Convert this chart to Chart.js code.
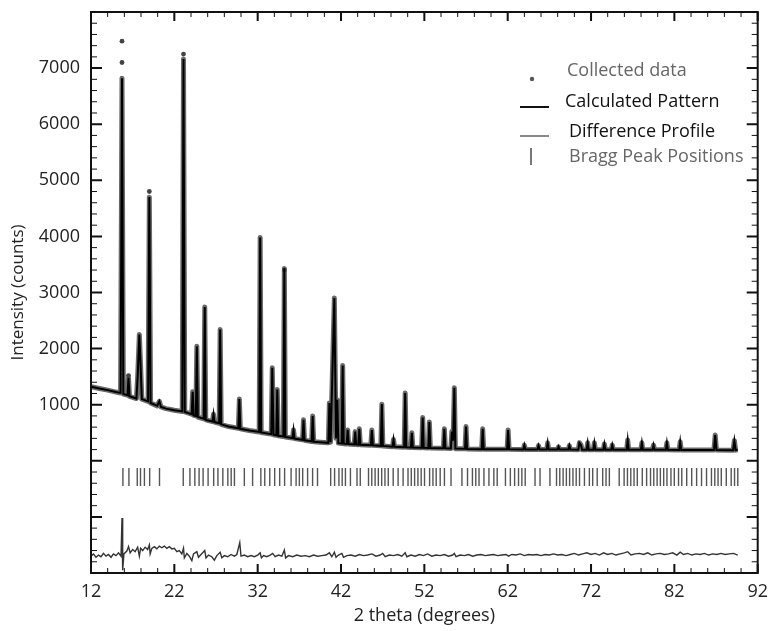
<!DOCTYPE html>
<html>
<head>
<meta charset="utf-8">
<script src="https://cdn.jsdelivr.net/npm/chart.js@4.4.1/dist/chart.umd.min.js"></script>
<style>
    body { margin: 0; background: #fff; }
    #wrap { width: 776px; height: 631px; }
</style>
</head>
<body>
<div id="wrap"><canvas id="chart" width="776" height="631"></canvas></div>
<script>
// calculated pattern, [2theta, counts]
const calculated = [
    [12, 1320], [13, 1290], [14, 1260], [15, 1225],
    [15.55, 1210], [15.72, 6820], [15.88, 1190],
    [16.38, 1170], [16.5, 1480], [16.62, 1150],
    [17.45, 1110], [17.6, 1500], [17.8, 2250], [17.95, 1700], [18.1, 1100],
    [18.85, 1060], [19.0, 4700], [19.15, 1030],
    [19.95, 980], [20.2, 1060], [20.4, 960],
    [21, 930], [22, 900], [22.95, 880], [23.1, 7160], [23.25, 870],
    [24.08, 830], [24.2, 1230], [24.32, 810], [24.58, 800], [24.7, 2040], [24.82, 780],
    [25.53, 750], [25.65, 2740], [25.77, 730],
    [26.58, 700], [26.7, 830], [26.82, 690],
    [27.38, 670], [27.5, 2340], [27.62, 650],
    [28.5, 610], [29.68, 580], [29.8, 1100], [29.92, 570],
    [31, 540], [32.18, 515], [32.3, 3980], [32.42, 505],
    [33.63, 475], [33.75, 1660], [33.9, 465], [34.23, 455], [34.35, 1270], [34.47, 445],
    [35.08, 435], [35.2, 3430], [35.32, 425],
    [36.18, 405], [36.3, 550], [36.42, 395],
    [37.38, 375], [37.5, 730], [37.62, 365],
    [38.48, 345], [38.6, 800], [38.72, 340],
    [39.5, 330], [40.48, 320], [40.6, 1030], [40.75, 330], [41.2, 2900], [41.4, 400],
    [41.55, 1090], [41.68, 315], [42.08, 310], [42.2, 1700], [42.32, 305],
    [42.68, 300], [42.8, 550], [42.92, 298],
    [43.58, 292], [43.7, 520], [43.82, 290], [44.08, 288], [44.2, 570], [44.32, 285],
    [45.58, 277], [45.7, 550], [45.82, 275],
    [46.78, 267], [46.9, 1010], [47.02, 265],
    [48.18, 252], [48.3, 380], [48.42, 250],
    [49.58, 242], [49.7, 1210], [49.82, 240],
    [50.38, 237], [50.5, 500], [50.62, 235],
    [51.68, 233], [51.8, 770], [51.92, 232], [52.48, 230], [52.6, 690], [52.72, 228],
    [54.28, 223], [54.4, 570], [54.52, 222],
    [55.18, 219], [55.3, 520], [55.45, 360], [55.6, 1300], [55.72, 217],
    [56.88, 213], [57.0, 610], [57.12, 212],
    [58.88, 208], [59.0, 570], [59.12, 207],
    [61.93, 205], [62.05, 550], [62.17, 205],
    [63.88, 203], [64.0, 280], [64.12, 203],
    [65.58, 202], [65.7, 270], [65.82, 202],
    [66.68, 201], [66.8, 320], [66.92, 201],
    [67.98, 200], [68.1, 250], [68.22, 200],
    [69.28, 200], [69.4, 270], [69.52, 200],
    [70.48, 199], [70.6, 320], [70.8, 280], [70.92, 199],
    [71.48, 199], [71.6, 320], [71.72, 199],
    [72.28, 198], [72.4, 320], [72.52, 198],
    [73.48, 198], [73.6, 300], [73.72, 198],
    [74.43, 197], [74.55, 280], [74.67, 197],
    [76.28, 196], [76.4, 370], [76.52, 196],
    [77.98, 196], [78.1, 320], [78.22, 196],
    [79.38, 195], [79.5, 280], [79.62, 195],
    [80.98, 195], [81.1, 320], [81.22, 195],
    [82.58, 194], [82.7, 340], [82.82, 194],
    [86.75, 192], [86.9, 460], [87.05, 192],
    [89.05, 190], [89.2, 360], [89.35, 190], [89.6, 195]
]

// collected points that stick out above the fit
const collectedTops = [
    [15.72, 7480], [15.72, 7100], [23.1, 7250], [19.0, 4800], [35.2, 3400], [16.5, 1520]
]

// difference profile (obs - calc), drawn with an offset of about -1680
const difference = [
    [12.0, -1700], [12.3, -1660], [12.6, -1720], [12.9, -1680], [13.2, -1710], [13.5, -1650],
    [13.8, -1700], [14.1, -1670], [14.4, -1720], [14.7, -1660], [15.0, -1690], [15.3, -1640],
    [15.6, -1700], [15.72, -1020], [15.8, -1950], [15.95, -1660], [16.3, -1610], [16.5, -1530],
    [16.7, -1640], [17.0, -1580], [17.3, -1620], [17.6, -1540], [17.8, -1700], [17.95, -1560],
    [18.2, -1600], [18.5, -1540], [18.8, -1580], [19.0, -1500], [19.1, -1660], [19.3, -1560],
    [19.6, -1530], [19.9, -1570], [20.2, -1520], [20.5, -1550], [20.8, -1520], [21.1, -1560],
    [21.4, -1530], [21.7, -1570], [22.0, -1560], [22.3, -1620], [22.6, -1600], [22.9, -1660],
    [23.1, -1560], [23.2, -1730], [23.5, -1650], [23.8, -1700], [24.1, -1780], [24.3, -1660],
    [24.7, -1620], [24.9, -1720], [25.2, -1670], [25.65, -1600], [25.8, -1730], [26.1, -1680],
    [26.5, -1710], [26.8, -1770], [27.1, -1690], [27.5, -1630], [27.7, -1730], [28.0, -1690],
    [28.4, -1710], [28.8, -1670], [29.2, -1700], [29.5, -1670], [29.85, -1460], [30.0, -1700],
    [30.4, -1680], [30.8, -1710], [31.2, -1690], [31.6, -1710], [32.0, -1680], [32.3, -1640],
    [32.45, -1730], [32.7, -1690], [33.1, -1710], [33.5, -1680], [33.8, -1650], [34.1, -1710],
    [34.5, -1680], [34.9, -1700], [35.2, -1590], [35.35, -1730], [35.7, -1690], [36.2, -1710],
    [36.7, -1680], [37.2, -1700], [37.7, -1690], [38.2, -1710], [38.7, -1680], [39.2, -1700],
    [39.7, -1690], [40.2, -1680], [40.6, -1640], [40.9, -1710], [41.2, -1630], [41.4, -1720],
    [41.7, -1680], [42.1, -1650], [42.3, -1720], [42.7, -1690], [43.2, -1680], [43.7, -1700],
    [44.2, -1670], [44.7, -1690], [45.2, -1680], [45.7, -1660], [46.2, -1700], [46.7, -1680],
    [47.0, -1650], [47.3, -1710], [47.8, -1680], [48.3, -1690], [48.8, -1670], [49.3, -1700],
    [49.7, -1640], [49.9, -1710], [50.4, -1680], [50.9, -1700], [51.4, -1670], [51.9, -1690],
    [52.4, -1660], [52.9, -1700], [53.4, -1680], [53.9, -1690], [54.4, -1670], [54.9, -1700],
    [55.4, -1680], [55.6, -1650], [55.8, -1710], [56.3, -1680], [56.8, -1690], [57.3, -1670],
    [57.8, -1700], [58.3, -1680], [58.8, -1670], [59.3, -1690], [59.8, -1680], [60.3, -1670],
    [60.8, -1690], [61.3, -1680], [61.8, -1670], [62.1, -1700], [62.5, -1670], [63.0, -1680],
    [63.5, -1660], [64.0, -1690], [64.5, -1670], [65.0, -1680], [65.5, -1670], [66.0, -1690],
    [66.5, -1670], [67.0, -1680], [67.5, -1660], [68.0, -1680], [68.5, -1670], [69.0, -1690],
    [69.5, -1670], [70.0, -1650], [70.5, -1680], [71.0, -1660], [71.5, -1640], [72.0, -1670],
    [72.5, -1650], [73.0, -1680], [73.5, -1640], [74.0, -1670], [74.5, -1650], [75.0, -1680],
    [75.5, -1660], [76.0, -1640], [76.4, -1620], [76.8, -1680], [77.3, -1660], [77.8, -1650],
    [78.3, -1670], [78.8, -1640], [79.3, -1680], [79.8, -1660], [80.3, -1650], [80.8, -1670],
    [81.3, -1660], [81.8, -1640], [82.3, -1680], [82.7, -1630], [83.1, -1670], [83.6, -1650],
    [84.1, -1680], [84.6, -1660], [85.1, -1670], [85.6, -1650], [86.1, -1680], [86.6, -1660],
    [87.1, -1670], [87.6, -1650], [88.1, -1670], [88.6, -1660], [89.1, -1650], [89.6, -1680]
]

// bragg reflections (2theta)
const braggPeaks = [
    15.83, 16.55, 17.55, 17.94, 18.41, 19.04, 20.22,
    23.07, 23.87, 24.46, 24.97, 25.45, 26.05, 26.72, 27.23, 27.82, 28.42, 28.82, 29.21, 30.4, 31.39,
    32.38, 32.85, 33.45, 34.04, 34.64, 35.23, 36.01, 36.61, 37.0, 37.4, 37.99, 38.59, 39.18,
    40.76, 41.23, 41.75, 42.14, 42.53, 43.13, 43.92, 44.31, 45.3, 45.69, 46.09, 46.48, 46.88,
    47.27, 47.67, 48.26, 48.85, 49.45, 50.04, 50.43, 50.83, 51.23, 51.62, 52.02,
    52.63, 53.03, 53.42, 53.9, 54.41, 55.2, 56.51, 57.18, 57.77, 58.17, 58.56, 59.15, 59.75,
    60.34, 60.74, 61.73, 62.32, 62.83, 63.3, 63.7, 64.1, 65.28, 65.88, 67.07, 67.86, 68.25,
    68.65, 69.04, 69.43, 69.83, 70.22, 70.62, 71.21, 71.8, 72.2,
    72.74, 73.4, 73.8, 74.2, 75.38, 75.97, 76.37, 76.77, 77.16, 77.55, 78.15, 78.67, 79.14,
    79.53, 79.93, 80.32, 80.72, 81.11, 81.59, 81.99, 82.5, 82.89, 83.48, 84.08, 84.67, 85.26,
    85.86, 86.45, 86.85, 87.24, 87.63, 88.23, 88.82, 89.22, 89.61
]
const braggRow = -290

const yLabels = [1000, 2000, 3000, 4000, 5000, 6000, 7000]

const toXY = arr => arr.map(p => ({ x: p[0], y: p[1] }))

const FONT = "'Open Sans', 'DejaVu Sans', sans-serif"

// inward ticks on all four sides + frame
const frameTicks = {
    id: 'frameTicks',
    afterDatasetsDraw(chart) {
        const { ctx, chartArea: a, scales } = chart
        ctx.save()
        ctx.strokeStyle = '#111'
        for(let v = 12; v <= 92; v += 2) {
            const major = (v - 12) % 10 == 0
            const px = scales.x.getPixelForValue(v)
            const len = major ? 9 : 5
            ctx.lineWidth = major ? 2 : 1
            ctx.beginPath()
            ctx.moveTo(px, a.bottom); ctx.lineTo(px, a.bottom - len)
            ctx.moveTo(px, a.top); ctx.lineTo(px, a.top + len)
            ctx.stroke()
        }
        for(let v = -2000; v <= 8000; v += 200) {
            const major = v % 1000 == 0
            const py = scales.y.getPixelForValue(v)
            const len = major ? 11 : 6
            ctx.lineWidth = major ? 2 : 1
            ctx.beginPath()
            ctx.moveTo(a.left, py); ctx.lineTo(a.left + len, py)
            ctx.moveTo(a.right, py); ctx.lineTo(a.right - len, py)
            ctx.stroke()
        }
        ctx.lineWidth = 2
        ctx.strokeRect(a.left, a.top, a.right - a.left, a.bottom - a.top)
        ctx.restore()
    }
}

const legendBox = {
    id: 'legendBox',
    afterDraw(chart) {
        const ctx = chart.ctx
        ctx.save()
        ctx.font = `18px ${FONT}`
        ctx.textBaseline = 'middle'
        ctx.textAlign = 'left'

        ctx.fillStyle = '#555'
        ctx.beginPath(); ctx.arc(532, 79, 2.2, 0, Math.PI * 2); ctx.fill()
        ctx.fillStyle = '#666'
        ctx.fillText('Collected data', 567, 71)

        ctx.strokeStyle = '#111'; ctx.lineWidth = 2
        ctx.beginPath(); ctx.moveTo(520, 107); ctx.lineTo(549, 107); ctx.stroke()
        ctx.fillStyle = '#111'
        ctx.fillText('Calculated Pattern', 565, 102)

        ctx.strokeStyle = '#888'; ctx.lineWidth = 2
        ctx.beginPath(); ctx.moveTo(520, 136); ctx.lineTo(549, 136); ctx.stroke()
        ctx.fillStyle = '#111'
        ctx.fillText('Difference Profile', 569, 132)

        ctx.strokeStyle = '#777'; ctx.lineWidth = 2
        ctx.beginPath(); ctx.moveTo(531, 148); ctx.lineTo(531, 165); ctx.stroke()
        ctx.fillStyle = '#666'
        ctx.fillText('Bragg Peak Positions', 569, 157)
        ctx.restore()
    }
}

new Chart(document.getElementById('chart'), {
    type: 'line',
    data: {
        datasets: [
            {
                label: 'Calculated Pattern',
                data: toXY(calculated),
                borderColor: '#000',
                borderWidth: 2,
                pointRadius: 0,
                tension: 0,
                order: 1
            },
            {
                label: 'Collected data',
                data: toXY(calculated),
                borderColor: 'rgba(80,80,80,0.85)',
                borderWidth: 5,
                borderJoinStyle: 'round',
                pointRadius: 0,
                tension: 0,
                order: 3
            },
            {
                label: 'Collected data (tops)',
                data: toXY(collectedTops),
                showLine: false,
                pointRadius: 2.4,
                pointBackgroundColor: '#444',
                pointBorderWidth: 0,
                order: 2
            },
            {
                label: 'Difference Profile',
                data: toXY(difference),
                borderColor: '#333',
                borderWidth: 1.4,
                pointRadius: 0,
                tension: 0,
                order: 4
            },
            {
                label: 'Bragg Peak Positions',
                data: braggPeaks.map(v => ({ x: v, y: braggRow })),
                showLine: false,
                pointStyle: 'line',
                rotation: 90,
                pointRadius: 9,
                borderColor: '#555',
                borderWidth: 1.4,
                order: 5
            }
        ]
    },
    options: {
        responsive: false,
        animation: false,
        events: [],
        devicePixelRatio: 1,
        layout: { padding: { top: 12, right: 11, left: 0, bottom: 0 } },
        plugins: { legend: { display: false }, tooltip: { enabled: false } },
        scales: {
            x: {
                type: 'linear',
                min: 12,
                max: 92,
                grid: { display: false, drawTicks: false },
                border: { display: false },
                ticks: { stepSize: 10, color: '#222', font: { size: 18, family: FONT }, padding: 8 },
                title: { display: true, text: '2 theta (degrees)', color: '#222', font: { size: 18, family: FONT }, padding: { top: 0, bottom: 4 } },
                afterFit(scale) { scale.height = 58 }
            },
            y: {
                min: -2000,
                max: 8000,
                grid: { display: false, drawTicks: false },
                border: { display: false },
                ticks: {
                    stepSize: 1000,
                    color: '#222',
                    font: { size: 18, family: FONT },
                    padding: 11,
                    callback: v => yLabels.includes(v) ? String(v) : ''
                },
                title: { display: true, text: 'Intensity (counts)', color: '#222', font: { size: 17, family: FONT }, padding: { top: 8, bottom: 0 } },
                afterFit(scale) {
                    scale.width = 91
                    scale.paddingTop = 0
                    scale.paddingBottom = 0
                }
            }
        }
    },
    plugins: [frameTicks, legendBox]
})
</script>
</body>
</html>
